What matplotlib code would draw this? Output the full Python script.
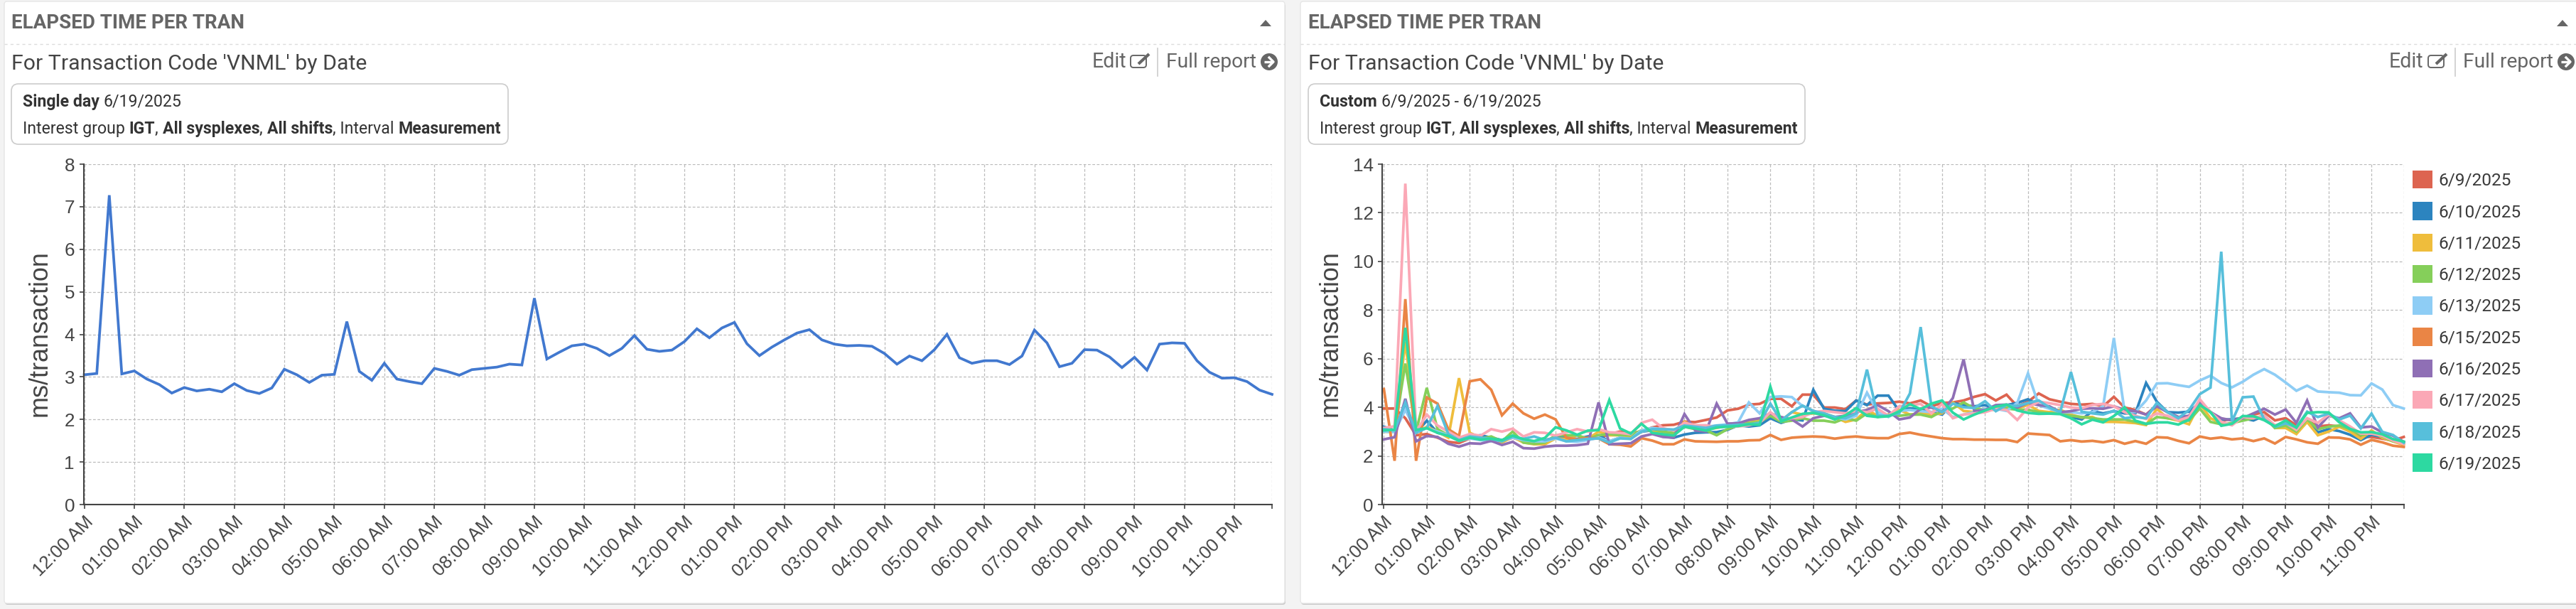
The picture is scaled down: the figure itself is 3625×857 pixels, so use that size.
import matplotlib
matplotlib.use("Agg")
import matplotlib.pyplot as plt
import numpy as np
from matplotlib.patches import FancyBboxPatch, Rectangle, Circle, Polygon, Patch

W, H = 3625, 857

# ---------------- data ----------------
hour_labels = ["12:00 AM","01:00 AM","02:00 AM","03:00 AM","04:00 AM","05:00 AM","06:00 AM","07:00 AM",
               "08:00 AM","09:00 AM","10:00 AM","11:00 AM","12:00 PM","01:00 PM","02:00 PM","03:00 PM",
               "04:00 PM","05:00 PM","06:00 PM","07:00 PM","08:00 PM","09:00 PM","10:00 PM","11:00 PM"]
d0619 = [3.05,3.08,7.27,3.07,3.14,2.95,2.82,2.62,2.75,2.67,2.71,2.65,2.84,2.68,2.61,2.74,
         3.18,3.05,2.87,3.04,3.06,4.3,3.13,2.92,3.32,2.95,2.89,2.84,3.2,3.13,3.04,3.17,
         3.2,3.23,3.3,3.28,4.85,3.42,3.58,3.73,3.77,3.67,3.5,3.67,3.97,3.65,3.6,3.63,
         3.83,4.13,3.92,4.15,4.28,3.78,3.5,3.7,3.87,4.03,4.11,3.87,3.77,3.73,3.74,3.72,
         3.55,3.3,3.49,3.38,3.64,4.0,3.45,3.32,3.38,3.38,3.29,3.49,4.1,3.8,3.24,3.32,
         3.64,3.63,3.47,3.22,3.46,3.16,3.77,3.8,3.79,3.38,3.11,2.97,2.98,2.89,2.69,2.59]
d0609 = [3.95,3.95,3.55,2.85,2.9,2.75,2.58,2.53,2.72,2.7,2.65,2.6,2.75,2.62,2.6,2.65,
         2.75,2.72,2.65,2.7,2.72,2.9,3.0,2.94,3.0,3.17,3.26,3.28,3.41,3.39,3.48,3.58,
         3.87,3.94,4.11,4.14,4.35,4.35,4.04,4.52,4.52,3.99,3.99,3.92,4.28,4.11,4.16,4.18,
         4.23,4.16,4.28,4.04,4.18,4.2,4.28,4.43,4.54,4.28,4.52,4.04,4.23,4.57,4.33,4.23,
         4.14,4.11,4.14,4.04,4.43,3.99,3.89,3.7,4.09,3.8,3.6,3.55,4.28,3.8,3.46,3.5,
         3.55,3.7,3.8,3.46,3.55,3.26,3.46,3.21,3.26,3.21,3.02,2.78,2.78,2.71,2.63,2.78]
d0610 = [3.2,3.05,4.0,2.95,3.45,2.95,2.85,2.65,2.8,2.85,2.75,2.65,2.8,2.6,2.5,2.5,
         2.75,2.75,2.7,2.8,2.85,2.6,2.75,2.75,3.0,3.05,2.8,2.75,2.88,2.95,2.97,2.98,
         3.07,3.26,3.21,3.26,3.55,3.36,3.5,3.46,4.72,3.94,3.86,3.84,4.28,4.09,4.48,4.48,
         3.85,3.96,3.9,3.8,3.7,4.18,4.09,4.04,4.09,3.94,4.09,4.18,4.33,4.09,3.99,3.84,
         3.6,3.5,3.84,3.75,3.84,3.75,3.75,5.0,4.23,3.8,3.78,3.82,4.18,3.8,3.5,3.5,
         3.55,3.46,3.65,3.21,3.31,2.97,3.41,2.97,3.1,3.02,2.87,2.65,2.87,2.78,2.68,2.53]
d0611 = [3.0,3.0,6.7,2.95,3.2,3.0,2.75,5.2,2.95,2.75,2.7,2.55,2.78,2.55,2.48,2.48,
         2.72,2.7,2.85,2.7,3.0,2.85,2.85,2.8,3.05,3.05,2.95,2.9,3.4,3.2,3.1,3.15,
         3.25,3.3,3.45,3.5,3.7,3.45,3.8,3.7,3.75,3.75,3.6,3.4,3.5,3.9,3.65,3.7,
         3.9,3.7,3.75,3.7,3.75,4.2,3.85,3.8,3.85,3.95,4.05,3.95,4.1,3.85,3.8,3.9,
         3.7,3.58,3.6,3.4,3.4,3.38,3.35,3.27,3.94,3.55,3.45,3.3,4.15,3.55,3.35,3.3,
         3.6,3.6,3.6,3.15,3.15,2.9,3.4,2.85,3.0,3.2,3.0,2.7,3.05,2.75,2.6,2.45]
d0612 = [3.0,3.0,5.8,3.0,4.8,3.1,2.85,2.7,2.8,2.7,2.8,2.6,3.0,2.55,2.5,2.55,
         2.85,2.85,2.85,2.7,2.85,2.9,2.85,2.85,3.05,3.1,3.0,2.95,3.2,3.1,3.05,2.85,
         3.1,3.25,3.35,3.4,3.65,3.4,3.45,3.55,3.45,3.45,3.38,3.55,3.45,3.75,3.6,3.7,
         3.65,3.7,3.7,3.6,3.85,3.95,4.2,3.95,3.9,3.9,3.95,3.9,3.9,3.8,3.75,3.75,
         3.65,3.6,3.55,3.5,3.5,3.5,3.4,3.3,3.6,3.55,3.5,3.45,3.95,3.4,3.3,3.35,
         3.45,3.55,3.65,3.15,3.25,3.0,3.5,3.1,3.2,3.25,3.1,2.85,2.95,2.8,2.6,2.55]
d0613 = [3.0,2.98,3.9,3.0,3.15,3.0,2.85,2.62,2.72,2.65,2.6,2.65,2.75,2.65,2.6,2.6,
         2.72,2.6,2.58,2.65,2.75,2.6,2.75,2.7,3.05,3.15,3.1,3.08,3.2,3.15,3.2,3.25,
         3.3,3.38,4.2,3.75,4.42,4.45,4.42,4.05,3.85,3.7,3.6,3.5,3.65,4.6,3.8,3.6,
         3.85,3.89,3.84,3.8,3.94,3.6,3.7,3.8,3.94,3.94,3.85,4.18,5.4,4.09,3.94,3.8,
         3.8,3.75,3.8,4.05,6.85,3.82,3.8,4.28,4.98,4.99,4.91,4.84,5.1,5.3,5.0,4.82,
         5.05,5.34,5.57,5.34,5.02,4.68,4.89,4.65,4.62,4.6,4.5,4.49,4.98,4.73,4.09,3.95]
d0615 = [4.75,1.8,8.45,1.8,4.4,4.15,3.1,2.82,5.07,5.15,4.72,3.67,4.15,3.75,3.53,3.7,
         3.5,2.75,2.68,2.75,2.72,2.48,2.46,2.39,2.73,2.63,2.48,2.48,2.68,2.6,2.59,2.58,
         2.6,2.6,2.64,2.65,2.86,2.66,2.75,2.78,2.8,2.78,2.71,2.77,2.8,2.75,2.73,2.73,
         2.9,2.96,2.87,2.8,2.73,2.69,2.69,2.67,2.67,2.66,2.66,2.57,2.92,2.89,2.86,2.6,
         2.65,2.59,2.62,2.56,2.65,2.5,2.61,2.5,2.77,2.75,2.62,2.52,2.8,2.71,2.76,2.68,
         2.72,2.61,2.72,2.51,2.78,2.68,2.56,2.5,2.76,2.75,2.68,2.46,2.66,2.56,2.42,2.37]
d0616 = [2.68,2.77,4.35,2.6,2.82,2.78,2.5,2.38,2.52,2.5,2.62,2.45,2.58,2.32,2.3,2.38,
         2.42,2.42,2.44,2.5,4.2,2.48,2.5,2.52,2.8,2.9,2.78,2.75,3.72,3.05,3.0,4.15,
         3.33,3.34,3.48,3.55,3.75,3.6,3.5,3.21,3.55,3.65,3.6,3.65,3.8,3.89,4.09,3.84,
         3.5,3.58,3.94,3.99,3.8,4.38,5.97,3.84,3.89,4.09,4.11,3.99,4.18,4.09,4.04,3.8,
         3.84,3.94,3.96,3.94,4.04,3.89,3.84,3.7,4.04,3.8,3.6,3.65,4.23,3.8,3.55,3.46,
         3.55,3.75,3.94,3.7,3.91,3.36,4.28,3.17,3.65,3.55,3.75,3.17,3.21,2.97,2.83,2.58]
d0617 = [3.15,3.22,13.2,3.0,3.7,3.25,3.0,2.75,2.9,2.83,3.1,3.0,3.12,2.8,2.97,2.95,
         2.83,2.97,3.1,3.0,3.1,2.97,2.95,2.89,3.36,3.49,3.14,3.04,3.36,3.26,3.26,3.18,
         3.21,3.21,3.26,3.36,3.8,3.46,3.55,3.6,3.8,3.85,3.8,3.75,3.85,3.8,3.94,3.65,
         4.04,4.09,4.14,3.75,4.14,3.55,3.7,3.75,3.8,3.94,3.89,3.48,3.99,4.23,4.17,4.09,
         3.99,3.96,4.1,4.14,4.04,3.8,3.65,3.52,3.75,3.65,3.46,3.6,4.33,3.8,3.41,3.26,
         3.6,3.55,3.65,3.26,3.36,3.07,3.55,3.36,3.7,3.46,3.21,2.92,2.92,2.83,2.63,2.49]
d0618 = [3.1,3.05,4.2,2.95,3.15,4.05,2.9,2.65,2.8,2.75,2.7,2.6,2.8,2.7,2.8,2.65,
         2.75,2.6,2.65,2.7,2.72,2.55,2.72,2.7,3.0,3.1,3.1,3.08,3.25,3.2,3.15,3.25,
         3.25,3.28,3.3,3.35,4.15,3.45,3.8,4.07,3.85,3.75,3.6,3.55,3.75,5.55,3.65,3.65,
         3.75,4.57,7.3,4.04,3.8,4.15,4.0,3.97,4.25,3.84,4.09,4.05,4.18,4.28,3.99,3.8,
         5.45,3.82,3.75,3.7,3.86,3.55,3.6,3.55,4.18,3.8,3.55,3.89,4.54,4.81,10.4,3.42,
         4.41,4.44,3.5,3.2,3.34,3.18,3.82,3.6,3.74,3.5,3.66,3.13,3.74,2.99,2.86,2.54]

single_day = d0619
series_names = ["6/9/2025","6/10/2025","6/11/2025","6/12/2025","6/13/2025",
                "6/15/2025","6/16/2025","6/17/2025","6/18/2025","6/19/2025"]
series_vals = [d0609,d0610,d0611,d0612,d0613,d0615,d0616,d0617,d0618,d0619]
series_cols = ["#dd6450","#2c84bf","#efbd3c","#85cf5a","#8ecdf5",
               "#ea8545","#8f6fb5","#fba8b6","#57bfdb","#2dd9a1"]
left_col = "#4178cf"
UI = "Roboto"; CH = "Liberation Sans"
TXT = "#444444"

fig = plt.figure(figsize=(W/100, H/100), dpi=100, facecolor="#f3f3f3")
bg = fig.add_axes([0,0,1,1], zorder=0)
bg.set_xlim(0,W); bg.set_ylim(H,0); bg.axis("off")

def px(p): return p*0.72

def rich(x, y, parts, size, color="#444444"):
    r = fig.canvas.get_renderer()
    for s, weight in parts:
        t = bg.text(x, y, s, fontsize=px(size), family=UI, weight=weight, color=color, va="center", ha="left")
        x += t.get_window_extent(r).width

def card(x0, x1, title_x, box_x1, head, rest, caret, edit_x, icon_x, sep, full_x, arrow_x):
    bg.add_patch(FancyBboxPatch((x0+1, 5), x1-x0, 846, boxstyle="round,pad=0,rounding_size=4", fc="#c9c9c9", ec="none"))
    bg.add_patch(FancyBboxPatch((x0, 2), x1-x0, 847, boxstyle="round,pad=0,rounding_size=4", fc="white", ec="#e6e6e6", lw=1))
    bg.plot([x0, x1], [62, 62], color="#dddddd", lw=1, ls=(0, (3, 3)))
    bg.text(title_x, 32, "ELAPSED TIME PER TRAN", fontsize=px(27.8), family=UI, weight="bold", color="#666666", va="center")
    bg.text(title_x, 90, "For Transaction Code 'VNML' by Date", fontsize=px(30.2), family=UI, color="#444444", va="center")
    bg.add_patch(FancyBboxPatch((title_x, 118), box_x1-title_x, 85, boxstyle="round,pad=0,rounding_size=10", fc="white", ec="#cccccc", lw=1.2))
    rich(title_x+16, 143, head, 23.1, "#333333")
    rich(title_x+16, 181, rest, 23.1, "#333333")
    bg.add_patch(Polygon([[caret-8, 37], [caret+8, 37], [caret, 28]], fc="#666666", ec="none"))
    bg.text(edit_x, 87, "Edit", fontsize=px(28.5), family=UI, color="#666666", va="center")
    bg.add_patch(FancyBboxPatch((icon_x, 78), 22, 17, boxstyle="round,pad=0,rounding_size=4", fc="white", ec="#666666", lw=1.4))
    bg.plot([icon_x+11, icon_x+26], [90, 76], color="#666666", lw=3, solid_capstyle="butt")
    bg.plot([sep, sep], [68, 107], color="#cccccc", lw=1.2)
    bg.text(full_x, 87, "Full report", fontsize=px(28.2), family=UI, color="#666666", va="center")
    bg.add_patch(Circle((arrow_x, 87), 12, fc="#666666", ec="none"))
    bg.plot([arrow_x-7, arrow_x+5], [87, 87], color="white", lw=2.4, solid_capstyle="butt")
    bg.plot([arrow_x, arrow_x+6, arrow_x], [81, 87, 93], color="white", lw=2.4)

rest_parts = [("Interest group ", "normal"), ("IGT", "bold"), (", ", "normal"), ("All sysplexes", "bold"), (", ", "normal"),
              ("All shifts", "bold"), (", Interval ", "normal"), ("Measurement", "bold")]
card(6, 1808, 16, 715, [("Single day ", "bold"), ("6/19/2025", "normal")], rest_parts, 1781, 1537, 1591, 1629, 1641, 1786)
card(1830, 3660, 1841, 2540, [("Custom ", "bold"), ("6/9/2025 - 6/19/2025", "normal")], rest_parts, 3606, 3362, 3417, 3455, 3466, 3611)

def make_axes(x_spine, x_zero, x_end, ymax, ystep, ylab_x):
    ax = fig.add_axes([x_spine/W, 1-710/H, (x_end-x_spine)/W, (710-231)/H], zorder=2)
    ax.patch.set_alpha(0)
    hour = (x_end-x_zero)/23.75
    ax.set_xlim(-(x_zero-x_spine)/hour, 23.75)
    ax.set_ylim(0, ymax)
    for s in ("top", "right"):
        ax.spines[s].set_visible(False)
    for s in ("left", "bottom"):
        ax.spines[s].set_color("#444444"); ax.spines[s].set_linewidth(1.5)
    ax.set_xticks(list(range(24)) + [23.75])
    ax.set_xticklabels(hour_labels + [""], rotation=45, ha="right", va="top", rotation_mode="anchor",
                       fontsize=px(25.5), family=CH, color=TXT)
    ax.set_yticks(np.arange(0, ymax+1, ystep))
    ax.tick_params(axis="both", length=4, width=1.2, color="#444444", pad=5)
    ax.tick_params(axis="y", labelsize=px(26), labelcolor=TXT)
    for t in ax.get_yticklabels():
        t.set_family(CH)
    ax.grid(True, color="#bbbbbb", lw=0.9, ls=(0, (3, 2)))
    ax.set_axisbelow(True)
    bg.text(ylab_x, 469, "ms/transaction", rotation=90, fontsize=px(36), family=CH, color=TXT, ha="center", va="center")
    return ax

t = np.arange(96)*0.25
ax1 = make_axes(117.5, 118.6, 1790, 8, 1, 56)
ax1.plot(t, single_day, color=left_col, lw=2.7, solid_joinstyle="miter", clip_on=False)

ax2 = make_axes(1945, 1947.4, 3382.6, 14, 2, 1872)
for name, vals, col in zip(series_names, series_vals, series_cols):
    ax2.plot(t, vals, color=col, lw=2.7, label=name, solid_joinstyle="miter", clip_on=False)

fs = px(24.4)
handles = [Patch(fc=c, ec="none", label=n) for n, c in zip(series_names, series_cols)]
leg = ax2.legend(handles=handles, loc="upper left", bbox_to_anchor=(3395/W, 1-240/H), bbox_transform=fig.transFigure,
                 frameon=False, borderaxespad=0, borderpad=0, handlelength=28/24.4, handleheight=30/24.4,
                 handletextpad=8/24.4, labelspacing=18.3/24.4, prop={"family": UI, "size": fs}, labelcolor="#3a3a3a")

fig.savefig("out.png", dpi=100, facecolor=fig.get_facecolor())
